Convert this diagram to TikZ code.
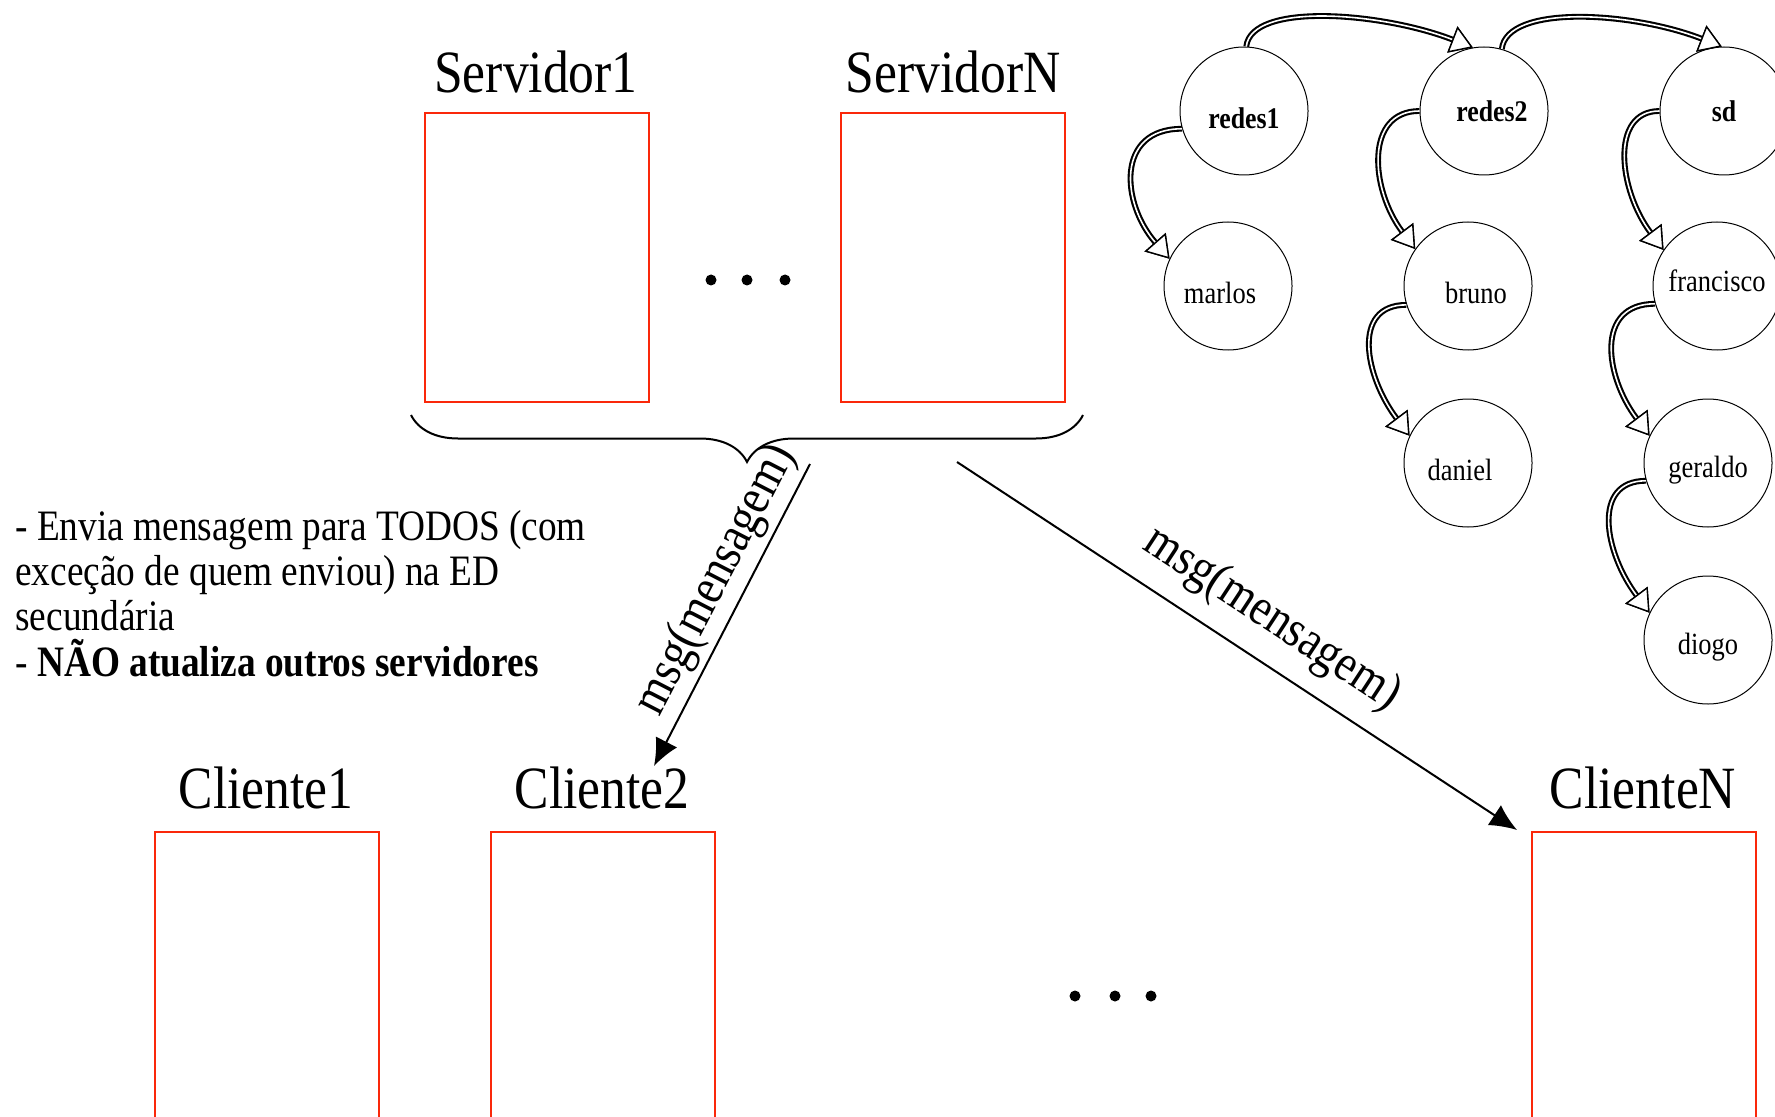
\documentclass[tikz,border=0pt]{standalone}
\usepackage{fontspec}
\setmainfont{Liberation Serif}[FakeStretch=0.86]
\usetikzlibrary{arrows.meta,decorations.pathreplacing}
\definecolor{boxred}{RGB}{250,40,10}
\tikzset{
  box/.style={draw=boxred, line width=1pt, minimum width=112pt, inner sep=0pt},
  lbl/.style={anchor=base, inner sep=0pt, font=\fontsize{30}{32}\selectfont},
  nd/.style={draw, circle, line width=0.5pt, minimum size=64pt, inner sep=0pt, font=\fontsize{15.4}{17}\selectfont},
  ndb/.style={nd, font=\fontsize{15}{17}\selectfont\bfseries},
  tdown/.style={execute at begin node={\rule{0pt}{17.5pt}}},
  tup/.style={execute at begin node={\rule[-5.6pt]{0pt}{5.6pt}}},
  dotn/.style={circle, fill=black, inner sep=0pt, minimum size=5.5pt},
  dbl/.style={line width=0.8pt, draw=white,
    preaction={draw=black, line width=2.9pt},
    -{Triangle[length=11pt, width=14pt, line width=0.7pt, fill=white, color=black]}},
  msgarrow/.style={line width=1pt, -{Latex[length=13.5pt, width=12pt]}},
  msglbl/.style={inner sep=0pt, font=\fontsize{26}{28}\selectfont}
}
\begin{document}
\begin{tikzpicture}[x=0.5pt, y=-0.5pt]
\useasboundingbox (0,0) rectangle (1775,1117);
% servers
\node[box, minimum height=144.5pt] (s1) at (537,257.5) {};
\node[box, minimum height=144.5pt] (sn) at (953,257.5) {};
\node[lbl] (s1l) at (536,93) {Servidor1};
\node[lbl] (snl) at (953,93) {ServidorN};
\node[dotn] (d1) at (711,280) {};
\node[dotn] (d2) at (747,280) {};
\node[dotn] (d3) at (785,280) {};
% brace
\coordinate (bl) at (411,415);
\coordinate (br) at (1083,415);
\draw[line width=1pt, decorate, decoration={brace, mirror, amplitude=23.5pt}] (bl) -- (br);
% clients
\node[box, minimum height=160pt] (c1) at (267,992) {};
\node[box, minimum height=160pt] (c2) at (603,992) {};
\node[box, minimum height=160pt] (cn) at (1644,992) {};
\node[lbl] (c1l) at (266,808) {Cliente1};
\node[lbl] (c2l) at (602,808) {Cliente2};
\node[lbl] (cnl) at (1643,808) {ClienteN};
\node[dotn] (e1) at (1075,996) {};
\node[dotn] (e2) at (1115,996) {};
\node[dotn] (e3) at (1151,996) {};
% arrows
\coordinate (a1s) at (810,464);
\coordinate (a1e) at (654,766);
\coordinate (a2s) at (957,462);
\coordinate (a2e) at (1517,830);
\draw[msgarrow] (a1s) -- (a1e);
\draw[msgarrow] (a2s) -- (a2e);
\node[msglbl, rotate=62.7] (m1) at (716,580) {msg(mensagem)};
\node[msglbl, rotate=-33.3] (m2) at (1272,619) {msg(mensagem)};
% text
\node[anchor=base west, align=left, inner sep=0pt, font=\fontsize{21.7}{22.65}\selectfont] (txt) at (15,676)
 {- Envia mensagem para TODOS (com\\exceção de quem enviou) na ED\\secundária\\- \textbf{NÃO atualiza outros servidores}};
% lists
\node[ndb, tdown] (redes1) at (1244,111) {redes1};
\node[ndb] (redes2) at (1484,111) {\hspace*{8pt}redes2};
\node[ndb] (sd) at (1724,111) {sd};
\node[nd, tdown] (marlos) at (1228,286) {\hspace*{-8pt}marlos};
\node[nd, tdown] (bruno) at (1468,286) {\hspace*{8pt}bruno};
\node[nd, tup] (francisco) at (1717,286) {francisco};
\node[nd, tdown] (daniel) at (1468,463) {\hspace*{-8pt}daniel};
\node[nd, tdown] (geraldo) at (1708,463) {geraldo};
\node[nd, tdown] (diogo) at (1708,640) {diogo};
\draw[dbl] (redes1.88) .. controls +(5,-45) and +(-90,-35) .. (redes2.100);
\draw[dbl] (redes2.74) .. controls +(5,-45) and +(-90,-35) .. (sd.92);
\draw[dbl] (redes1.196) .. controls +(-67,0) and +(-48,-55) .. (marlos.155);
\draw[dbl] (redes2.180) .. controls +(-55,0) and +(-45,-60) .. (bruno.145);
\draw[dbl] (sd.180) .. controls +(-50,0) and +(-45,-60) .. (francisco.146);
\draw[dbl] (bruno.197) .. controls +(-55,0) and +(-45,-60) .. (daniel.155);
\draw[dbl] (francisco.196) .. controls +(-60,0) and +(-45,-60) .. (geraldo.155);
\draw[dbl] (geraldo.196) .. controls +(-55,0) and +(-45,-60) .. (diogo.155);
\end{tikzpicture}
\end{document}
